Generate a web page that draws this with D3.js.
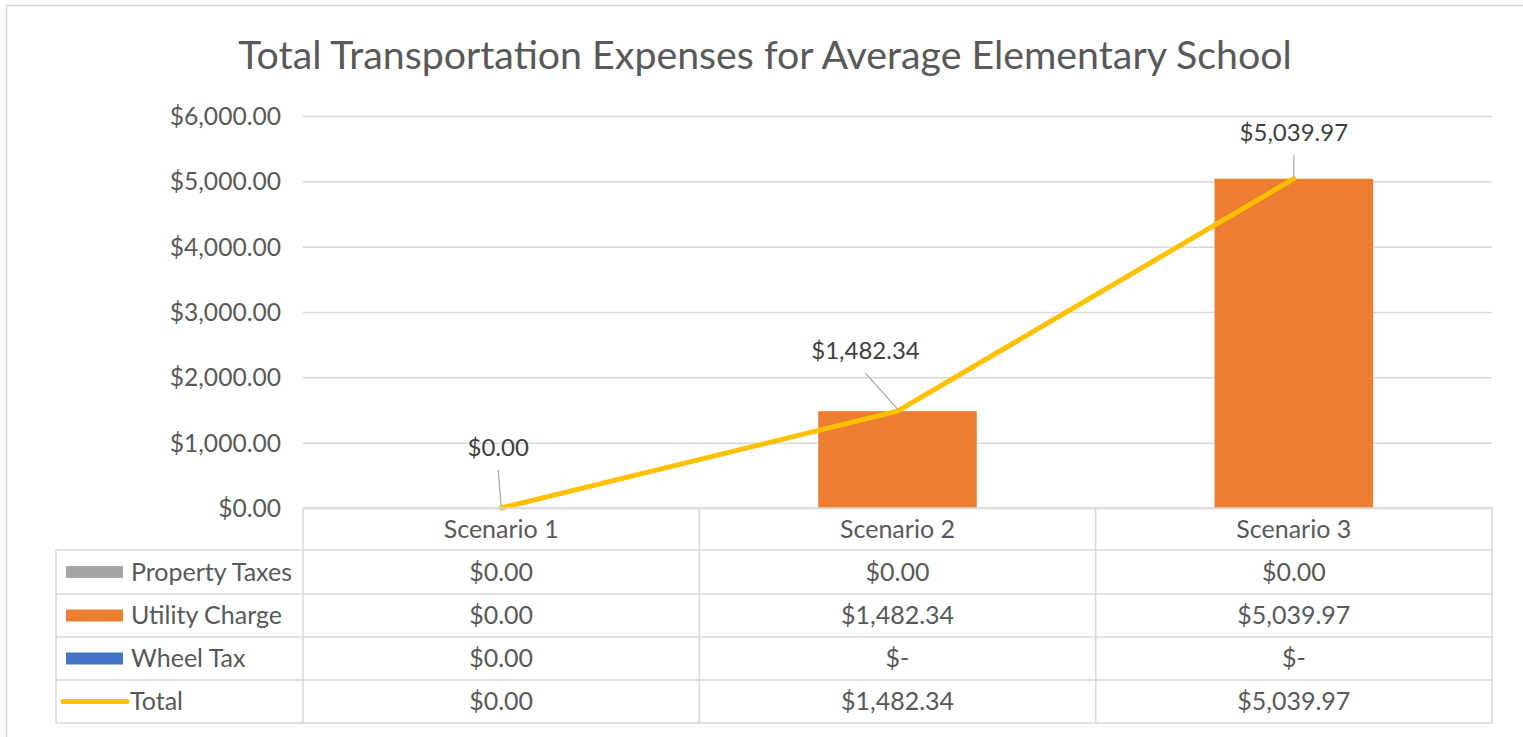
<!DOCTYPE html>
<html><head><meta charset="utf-8">
<script src="https://cdn.jsdelivr.net/npm/d3@7"></script>
<style>
html,body{margin:0;padding:0;background:#fff;}
svg{display:block;font-family:Lato,"Open Sans",sans-serif;}
</style></head>
<body>
<svg id="chart" width="1523" height="737"></svg>
<script>
const title = "Total Transportation Expenses for Average Elementary School";
const categories = ["Scenario 1", "Scenario 2", "Scenario 3"];
const propertyTaxes = [0, 0, 0];
const utilityCharge = [0, 1482.34, 5039.97];
const wheelTax = [0, null, null];
const total = [0, 1482.34, 5039.97];
const yTicks = [0, 1000, 2000, 3000, 4000, 5000, 6000];
const seriesNames = ["Property Taxes", "Utility Charge", "Wheel Tax", "Total"];
const seriesColors = ["#A5A5A5", "#ED7D31", "#4472C4", "#FFC000"];

const svg = d3.select("#chart");
const textColor = "#595959";
const gridColor = "#d9d9d9";

// outer border
svg.append("rect").attr("x", 6.5).attr("y", 5.5).attr("width", 1540).attr("height", 760)
  .attr("fill", "#fff").attr("stroke", gridColor).attr("stroke-width", 1.5);

// title
svg.append("text").attr("x", 765).attr("y", 69).attr("text-anchor", "middle")
  .attr("font-size", 39.3).attr("fill", textColor).text(title);

const plotLeft = 303, plotRight = 1492, plotTop = 116, plotBottom = 508;
const x = d3.scaleBand().domain(categories).range([plotLeft, plotRight])
  .paddingInner(0.6).paddingOuter(0.3);
const y = d3.scaleLinear().domain([0, 6000]).range([plotBottom, plotTop]);
const step = x.step();
const colLeft = c => x(c) - step * 0.3;
const colCenter = c => x(c) + x.bandwidth() / 2;

// gridlines + y axis
const yAxis = d3.axisLeft(y).tickValues(yTicks)
  .tickFormat(d => "$" + d3.format(",.2f")(d))
  .tickSize(-(plotRight - plotLeft)).tickPadding(22);
const gy = svg.append("g").attr("transform", `translate(${plotLeft},0)`).call(yAxis);
gy.select(".domain").remove();
gy.selectAll(".tick line").attr("stroke", gridColor).attr("stroke-width", 1.5);
gy.selectAll(".tick text").attr("fill", textColor).attr("font-size", 24.6)
  .attr("font-family", "Lato").attr("dy", "0.35em");

// stacked bars
const rows = categories.map((c, i) => ({
  cat: c, p: propertyTaxes[i] || 0, u: utilityCharge[i] || 0, w: wheelTax[i] || 0
}));
const stack = d3.stack().keys(["p", "u", "w"])(rows);
svg.append("g").selectAll("g").data(stack).join("g")
  .attr("fill", (d, i) => seriesColors[i])
  .selectAll("rect").data(d => d).join("rect")
  .attr("x", d => x(d.data.cat)).attr("width", x.bandwidth())
  .attr("y", d => y(d[1])).attr("height", d => Math.max(0, y(d[0]) - y(d[1])));

// total line
const line = d3.line().x((d, i) => colCenter(categories[i])).y(d => y(d));
svg.append("path").datum(total).attr("d", line).attr("fill", "none")
  .attr("stroke", seriesColors[3]).attr("stroke-width", 5)
  .attr("stroke-linejoin", "round").attr("stroke-linecap", "round");

// data labels with leader lines (offsets in px)
const labelOffsets = [[-3, -55], [-32, -55], [0, -41]];
const fmt = v => "$" + d3.format(",.2f")(v);
total.forEach((v, i) => {
  const px = colCenter(categories[i]), py = y(v);
  const [dx, dy] = labelOffsets[i];
  svg.append("line").attr("x1", px).attr("y1", py - 2)
    .attr("x2", px + dx).attr("y2", py + dy + 17)
    .attr("stroke", "#a6a6a6").attr("stroke-width", 1.2);
  svg.append("text").attr("x", px + dx).attr("y", py + dy + 3)
    .attr("text-anchor", "middle").attr("font-size", 24)
    .attr("fill", "#404040").text(fmt(v));
});

// data table
const tableLeft = 56;
const headerTop = plotBottom, headerBottom = 550;
const rowTops = [550, 594, 637, 680, 723];
const tbl = svg.append("g");
function hline(x1, x2, yy) {
  tbl.append("line").attr("x1", x1).attr("x2", x2).attr("y1", yy).attr("y2", yy)
    .attr("stroke", gridColor).attr("stroke-width", 1.5);
}
function vline(xx, y1, y2) {
  tbl.append("line").attr("x1", xx).attr("x2", xx).attr("y1", y1).attr("y2", y2)
    .attr("stroke", gridColor).attr("stroke-width", 1.5);
}
hline(plotLeft, plotRight, headerTop);
rowTops.forEach(r => hline(tableLeft, plotRight, r));
vline(tableLeft, rowTops[0], rowTops[4]);
vline(plotLeft, headerTop, rowTops[4]);
categories.forEach(c => vline(colLeft(c) + step, headerTop, rowTops[4]));

const tFont = 25;
// header
categories.forEach(c => {
  tbl.append("text").attr("x", colCenter(c)).attr("y", (headerTop + headerBottom) / 2)
    .attr("dy", "0.35em").attr("text-anchor", "middle").attr("font-size", tFont)
    .attr("fill", textColor).text(c);
});

const seriesVals = [propertyTaxes, utilityCharge, wheelTax, total];
seriesNames.forEach((name, si) => {
  const cy = (rowTops[si] + rowTops[si + 1]) / 2;
  if (si < 3) {
    tbl.append("rect").attr("x", 66).attr("y", cy - 6).attr("width", 57).attr("height", 12)
      .attr("fill", seriesColors[si]);
  } else {
    tbl.append("line").attr("x1", 63).attr("x2", 127).attr("y1", cy).attr("y2", cy)
      .attr("stroke", seriesColors[3]).attr("stroke-width", 5).attr("stroke-linecap", "round");
  }
  tbl.append("text").attr("x", si < 3 ? 131 : 130).attr("y", cy).attr("dy", "0.35em")
    .attr("font-size", tFont).attr("fill", textColor).text(name);
  categories.forEach((c, ci) => {
    const v = seriesVals[si][ci];
    tbl.append("text").attr("x", colCenter(c)).attr("y", cy).attr("dy", "0.35em")
      .attr("text-anchor", "middle").attr("font-size", tFont).attr("fill", textColor)
      .text(v == null ? "$-" : fmt(v));
  });
});
</script>
</body></html>
